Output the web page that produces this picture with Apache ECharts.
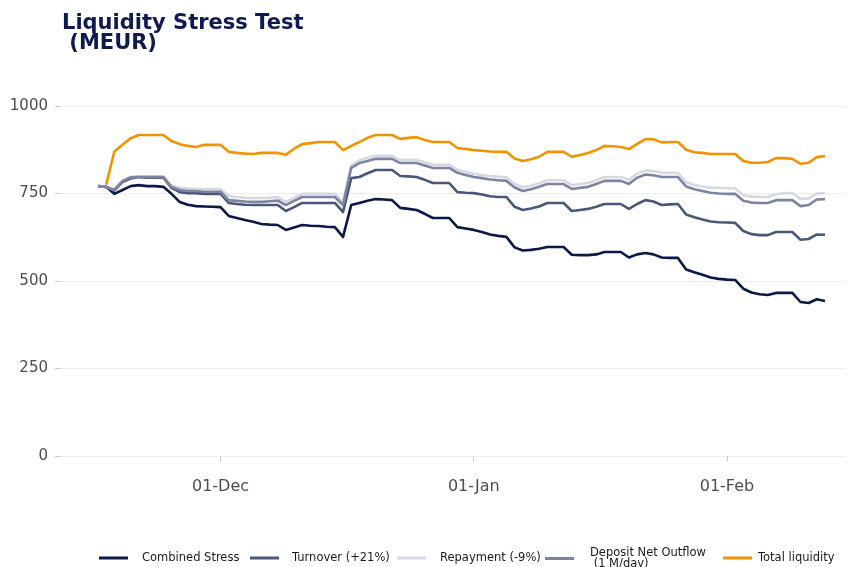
<!DOCTYPE html>
<html>
<head>
<meta charset="utf-8">
<script src="https://cdn.jsdelivr.net/npm/echarts@6/dist/echarts.min.js"></script>
<style>html,body{margin:0;padding:0;background:#fff}#c{width:850px;height:567px}</style>
</head>
<body>
<div id="c"></div>
<script>
const dates = [
'2023-11-16','2023-11-17','2023-11-18','2023-11-19','2023-11-20','2023-11-21','2023-11-22','2023-11-23','2023-11-24','2023-11-25','2023-11-26','2023-11-27','2023-11-28','2023-11-29','2023-11-30',
'2023-12-01','2023-12-02','2023-12-03','2023-12-04','2023-12-05','2023-12-06','2023-12-07','2023-12-08','2023-12-09','2023-12-10','2023-12-11','2023-12-12','2023-12-13','2023-12-14','2023-12-15','2023-12-16','2023-12-17','2023-12-18','2023-12-19','2023-12-20','2023-12-21','2023-12-22','2023-12-23','2023-12-24','2023-12-25','2023-12-26','2023-12-27','2023-12-28','2023-12-29','2023-12-30','2023-12-31',
'2024-01-01','2024-01-02','2024-01-03','2024-01-04','2024-01-05','2024-01-06','2024-01-07','2024-01-08','2024-01-09','2024-01-10','2024-01-11','2024-01-12','2024-01-13','2024-01-14','2024-01-15','2024-01-16','2024-01-17','2024-01-18','2024-01-19','2024-01-20','2024-01-21','2024-01-22','2024-01-23','2024-01-24','2024-01-25','2024-01-26','2024-01-27','2024-01-28','2024-01-29','2024-01-30','2024-01-31',
'2024-02-01','2024-02-02','2024-02-03','2024-02-04','2024-02-05','2024-02-06','2024-02-07','2024-02-08','2024-02-09','2024-02-10','2024-02-11','2024-02-12','2024-02-13'
];
const combinedStress = [
771,769,749,760,771,774,771,771,769,749,726,718,714,713,712,
711,686,680,674,669,663,661,660,646,653,660,658,657,655,654,626,717,723,729,734,733,731,709,706,703,692,680,680,680,654,650,
646,640,633,629,626,596,587,589,592,597,597,597,575,574,574,576,583,583,583,567,576,580,576,567,566,566,533,525,518,510,506,
504,503,478,467,462,460,466,466,466,440,437,448,443
];
const turnover = [
771,769,758,783,793,797,795,795,795,766,754,751,751,749,749,
749,723,720,718,717,717,717,717,700,711,723,723,723,723,723,697,794,797,808,817,817,817,800,799,797,789,780,780,780,754,752,
751,747,742,740,740,712,703,707,713,723,723,723,700,703,706,712,720,720,720,706,720,731,727,717,719,720,690,682,676,670,668,
667,666,643,634,631,631,640,640,640,618,620,633,632
];
const repayment = [
771,769,762,787,798,799,799,799,799,772,766,764,763,763,763,
763,743,740,738,737,737,738,740,726,738,749,749,749,749,749,726,831,845,852,858,858,858,846,846,846,839,832,832,832,818,812,
806,803,800,798,796,777,768,772,779,788,788,788,774,777,780,788,797,797,797,789,807,816,814,809,809,809,782,774,770,766,766,
765,765,745,741,740,740,748,751,751,734,736,750,751
];
const depositOutflow = [
771,769,760,785,796,797,797,797,797,769,760,757,757,755,755,
755,731,729,727,726,726,728,730,717,729,740,740,740,740,740,717,823,837,843,849,849,849,837,837,837,830,823,823,823,809,803,
797,794,790,788,786,767,757,762,769,777,777,777,763,766,769,777,786,786,786,777,795,804,802,797,797,797,770,762,757,752,750,
749,749,729,724,723,723,731,731,731,714,717,733,734
];
const totalLiquidity = [
null,775,870,889,908,917,917,917,917,900,891,886,883,889,889,
889,869,866,864,863,866,866,866,861,878,891,894,897,897,897,874,886,897,909,917,917,917,906,909,911,903,897,897,897,880,877,
874,872,870,869,869,850,843,848,855,869,869,869,855,860,866,874,886,885,883,877,892,905,905,896,897,897,875,868,866,863,863,
863,863,843,838,838,840,851,851,849,835,838,854,857
];
const seriesNames = ['Combined Stress','Turnover (+21%)','Repayment (-9%)','Deposit Net Outflow\n (1 M/day)','Total liquidity'];
const xTickDates = ['2023-12-01','2024-01-01','2024-02-01'];
const yTicks = [0,250,500,750,1000];

const FONT = 'DejaVu Sans';
const DAY = 86400000;
const colors = ['#0b1848','#4b5679','#d6d9e2','#7d83a1','#f39200'];
const seriesData = [combinedStress, turnover, repayment, depositOutflow, totalLiquidity];
const t = s => Date.parse(s);
const months = ['Jan','Feb','Mar','Apr','May','Jun','Jul','Aug','Sep','Oct','Nov','Dec'];

const legendPos = [
  {left: 99, pad: 9},
  {left: 250, pad: 8},
  {left: 397, pad: 9},
  {left: 545, pad: 11},
  {left: 723, pad: 1}
];

const chart = echarts.init(document.getElementById('c'), null, {renderer: 'canvas'});
chart.setOption({
  animation: false,
  backgroundColor: '#ffffff',
  title: {
    text: 'Liquidity Stress Test\n (MEUR)',
    left: 62, top: 14, padding: 0,
    textStyle: {fontFamily: FONT, fontWeight: 'bold', fontSize: 21, lineHeight: 20, color: '#0e1a50'}
  },
  legend: seriesNames.map((n, i) => ({
    data: [n],
    left: legendPos[i].left,
    top: i === 3 ? 547 : 551,
    padding: 0,
    icon: 'rect',
    itemWidth: 29,
    itemHeight: 3,
    selectedMode: false,
    textStyle: {fontFamily: FONT, fontSize: 11.5, color: '#1a1a1a', lineHeight: i === 3 ? 11 : 14, padding: [0, 0, 0, legendPos[i].pad]}
  })),
  grid: {left: 60, right: 5, top: 106, bottom: 111, containLabel: false},
  xAxis: {
    type: 'value',
    min: t(dates[0]) - 4.65 * DAY,
    max: t(dates[dates.length - 1]) + 2.45 * DAY,
    offset: 16,
    axisLine: {show: false},
    axisTick: {show: true, length: 5, lineStyle: {color: '#c8c8c8'}, customValues: xTickDates.map(t)},
    axisLabel: {
      customValues: xTickDates.map(t),
      margin: 7,
      fontFamily: FONT, fontSize: 16, color: '#4d4d4d',
      formatter: v => { const d = new Date(v); return String(d.getUTCDate()).padStart(2, '0') + '-' + months[d.getUTCMonth()]; }
    },
    splitLine: {show: false}
  },
  yAxis: {
    type: 'value',
    min: yTicks[0], max: yTicks[yTicks.length - 1], interval: 250,
    axisLine: {show: false},
    axisTick: {show: true, length: 5, lineStyle: {color: '#c8c8c8'}},
    axisLabel: {margin: 12, fontFamily: FONT, fontSize: 15, color: '#4d4d4d', formatter: v => String(v)},
    splitLine: {show: true, lineStyle: {color: '#ededed', width: 1}}
  },
  series: seriesNames.map((n, i) => ({
    name: n,
    type: 'line',
    showSymbol: false,
    symbol: 'none',
    connectNulls: false,
    color: colors[i],
    lineStyle: {width: 2.6, color: colors[i], join: 'round'},
    data: dates.map((d, k) => [t(d), seriesData[i][k]])
  }))
});
</script>
</body>
</html>
